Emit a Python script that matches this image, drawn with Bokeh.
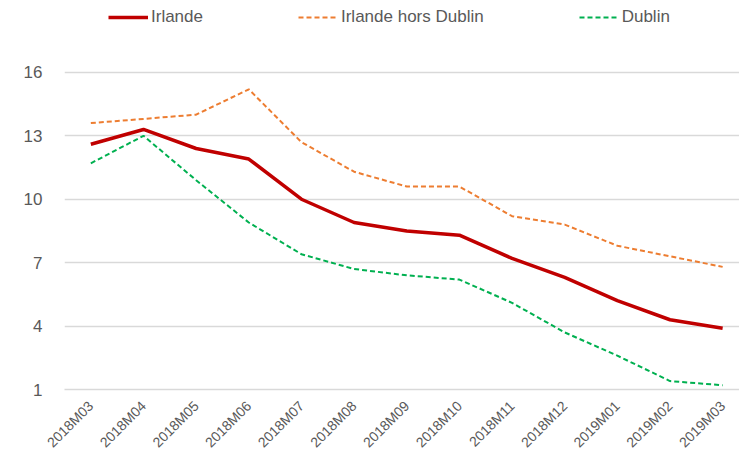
import math
from bokeh.plotting import figure
from bokeh.models import Range1d, FixedTicker, Legend, LegendItem
from bokeh.embed import file_html
from bokeh.resources import INLINE

months = ["2018M03", "2018M04", "2018M05", "2018M06", "2018M07", "2018M08",
          "2018M09", "2018M10", "2018M11", "2018M12", "2019M01", "2019M02", "2019M03"]
irlande = [12.6, 13.3, 12.4, 11.9, 10.0, 8.9, 8.5, 8.3, 7.2, 6.3, 5.2, 4.3, 3.9]
hors_dublin = [13.6, 13.8, 14.0, 15.2, 12.7, 11.3, 10.6, 10.6, 9.2, 8.8, 7.8, 7.3, 6.8]
dublin = [11.7, 13.0, 10.9, 8.9, 7.4, 6.7, 6.4, 6.2, 5.1, 3.7, 2.6, 1.4, 1.2]
y_ticks = [1, 4, 7, 10, 13, 16]

xs = list(range(len(months)))

# frame spans from the top of the canvas so the legend can sit inside it
p = figure(width=739, height=459, output_backend="svg", toolbar_location=None,
           x_range=Range1d(-0.5, 12.32), y_range=Range1d(1, 19.4),
           min_border_left=64, min_border_right=0, min_border_top=0, min_border_bottom=69)
p.outline_line_color = None
p.background_fill_color = "white"

FONT = "Liberation Sans"
GRAY = "#595959"

# y axis
p.yaxis.ticker = FixedTicker(ticks=y_ticks)
p.yaxis.axis_line_color = None
p.yaxis.major_tick_line_color = None
p.yaxis.minor_tick_line_color = None
p.yaxis.major_label_text_font = FONT
p.yaxis.major_label_text_font_size = "17px"
p.yaxis.major_label_text_color = GRAY
p.yaxis.major_label_standoff = 16

# x axis
p.xaxis.ticker = FixedTicker(ticks=xs)
p.xaxis.major_label_overrides = {i: m for i, m in enumerate(months)}
p.xaxis.major_label_orientation = math.pi / 4
p.xaxis.axis_line_color = "#D9D9D9"
p.xaxis.axis_line_width = 1.5
p.xaxis.major_tick_line_color = None
p.xaxis.minor_tick_line_color = None
p.xaxis.major_label_text_font = FONT
p.xaxis.major_label_text_font_size = "14px"
p.xaxis.major_label_text_color = GRAY
p.xaxis.major_label_standoff = 8

p.xgrid.grid_line_color = None
p.ygrid.ticker = FixedTicker(ticks=y_ticks)
p.ygrid.grid_line_color = "#D9D9D9"
p.ygrid.grid_line_width = 1.5

r1 = p.line(xs, irlande, line_color="#C00000", line_width=3.5)
r2 = p.line(xs, hors_dublin, line_color="#ED7D31", line_width=2, line_dash="5 3")
r3 = p.line(xs, dublin, line_color="#00B050", line_width=2, line_dash="5 3")

legend = Legend(items=[LegendItem(label="Irlande", renderers=[r1]),
                       LegendItem(label="Irlande hors Dublin", renderers=[r2]),
                       LegendItem(label="Dublin", renderers=[r3])],
                orientation="horizontal", location=(44, 362),
                padding=0, margin=0, spacing=95, glyph_width=40, glyph_height=20,
                label_height=20, label_standoff=3,
                label_text_font=FONT, label_text_font_size="17px",
                label_text_color=GRAY, border_line_color=None,
                background_fill_alpha=0)
p.add_layout(legend, "center")

open("out.html", "w").write(file_html(p, INLINE))
